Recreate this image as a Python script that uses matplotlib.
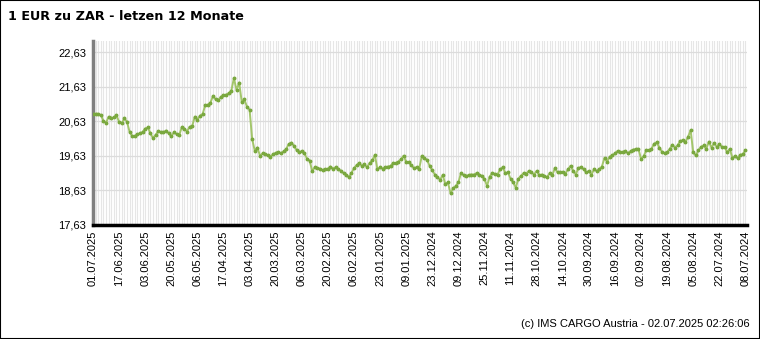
import numpy as np
import matplotlib.pyplot as plt
from matplotlib.patches import Rectangle

# EUR/ZAR, newest first (left = 01.07.2025, right = 08.07.2024)
rate = [
    20.84, 20.85, 20.84, 20.81, 20.64, 20.59, 20.76, 20.71, 20.74, 20.80,
    20.61, 20.57, 20.71, 20.62, 20.33, 20.20, 20.21, 20.25, 20.28, 20.32,
    20.42, 20.45, 20.28, 20.14, 20.24, 20.34, 20.32, 20.31, 20.36, 20.28,
    20.19, 20.31, 20.26, 20.22, 20.45, 20.42, 20.33, 20.47, 20.49, 20.76,
    20.67, 20.79, 20.84, 21.09, 21.11, 21.17, 21.36, 21.26, 21.23, 21.34,
    21.38, 21.40, 21.44, 21.51, 21.88, 21.53, 21.75, 21.19, 21.26, 21.05,
    20.96, 20.11, 19.77, 19.87, 19.63, 19.70, 19.68, 19.64, 19.61, 19.67,
    19.72, 19.74, 19.70, 19.76, 19.82, 19.97, 20.01, 19.92, 19.80, 19.74,
    19.76, 19.70, 19.55, 19.49, 19.19, 19.30, 19.28, 19.26, 19.22, 19.24,
    19.26, 19.32, 19.26, 19.30, 19.24, 19.20, 19.13, 19.09, 19.01, 19.13,
    19.27, 19.36, 19.42, 19.34, 19.38, 19.30, 19.42, 19.50, 19.65, 19.24,
    19.30, 19.26, 19.30, 19.32, 19.34, 19.42, 19.42, 19.46, 19.53, 19.63,
    19.46, 19.44, 19.36, 19.27, 19.30, 19.26, 19.63, 19.57, 19.51, 19.34,
    19.21, 19.09, 19.01, 18.94, 19.07, 18.82, 18.86, 18.55, 18.69, 18.76,
    18.86, 19.13, 19.07, 19.05, 19.07, 19.09, 19.09, 19.13, 19.09, 19.05,
    18.96, 18.76, 19.03, 19.13, 19.11, 19.09, 19.24, 19.30, 19.13, 19.15,
    18.97, 18.86, 18.71, 18.97, 19.05, 19.13, 19.11, 19.19, 19.15, 19.09,
    19.19, 19.07, 19.09, 19.05, 19.01, 19.13, 19.07, 19.28, 19.15, 19.15,
    19.17, 19.11, 19.24, 19.34, 19.19, 19.09, 19.28, 19.30, 19.24, 19.15,
    19.19, 19.09, 19.24, 19.19, 19.24, 19.32, 19.57, 19.46, 19.61, 19.64,
    19.70, 19.77, 19.73, 19.75, 19.77, 19.70, 19.77, 19.81, 19.83, 19.83,
    19.54, 19.62, 19.79, 19.79, 19.83, 19.98, 20.02, 19.87, 19.75, 19.71,
    19.73, 19.83, 19.95, 19.87, 19.93, 20.06, 20.08, 20.02, 20.18, 20.37,
    19.73, 19.64, 19.79, 19.89, 19.93, 19.83, 20.04, 19.87, 20.00, 19.89,
    19.97, 19.89, 19.89, 19.73, 19.83, 19.58, 19.62, 19.56, 19.66, 19.68,
    19.79,
]

date_labels = [
    "01.07.2025", "17.06.2025", "03.06.2025", "20.05.2025", "06.05.2025",
    "17.04.2025", "03.04.2025", "20.03.2025", "06.03.2025", "20.02.2025",
    "06.02.2025", "23.01.2025", "09.01.2025", "23.12.2024", "09.12.2024",
    "25.11.2024", "11.11.2024", "28.10.2024", "14.10.2024", "30.09.2024",
    "16.09.2024", "02.09.2024", "19.08.2024", "05.08.2024", "22.07.2024",
    "08.07.2024",
]

y_ticks = [17.63, 18.63, 19.63, 20.63, 21.63, 22.63]

title = "1 EUR zu ZAR - letzen 12 Monate"
footer = "(c) IMS CARGO Austria - 02.07.2025 02:26:06"

plt.rcParams["font.family"] = ["Liberation Sans", "DejaVu Sans"]

fig = plt.figure(figsize=(7.6, 3.39), dpi=100)
ax = fig.add_axes([93 / 760, 1 - 225 / 339, 654 / 760, 184 / 339])

x = np.arange(len(rate))
ax.plot(x, rate, color="#a3c66b", lw=1.4, marker="o", ms=1.8,
        mfc="#7aa83f", mec="#7aa83f", zorder=3)

ax.set_xlim(0, 250.6)
ax.set_ylim(17.63, 22.95)

ax.set_xticks(np.arange(len(date_labels)) * 10)
ax.set_xticklabels(date_labels, rotation=90, fontsize=8)
ax.set_xticks(x, minor=True)
ax.set_yticks(y_ticks)
ax.set_yticklabels([f"{v:.2f}".replace(".", ",") for v in y_ticks], fontsize=8)
ax.tick_params(axis="both", which="both", length=0, pad=5)
ax.tick_params(axis="x", pad=4)

ax.grid(axis="x", which="both", color="#e6e6e6", lw=0.8)
ax.grid(axis="y", which="major", color="#dcdcdc", lw=0.9)
ax.set_axisbelow(True)

for s in ("top", "right"):
    ax.spines[s].set_visible(False)
ax.spines["left"].set_color("#808080")
ax.spines["left"].set_linewidth(2.5)
ax.spines["bottom"].set_color("black")
ax.spines["bottom"].set_linewidth(2.5)

fig.text(8 / 760, 1 - 17 / 339, title, fontsize=9.2, fontweight="bold",
         family=["DejaVu Sans"], va="center", ha="left")
fig.text(750 / 760, 1 - 324 / 339, footer, fontsize=8, va="center", ha="right")

fig.add_artist(Rectangle((0, 0), 1, 1, transform=fig.transFigure,
                         fill=False, edgecolor="black", lw=1.5))

fig.savefig("out.png", dpi=100)
